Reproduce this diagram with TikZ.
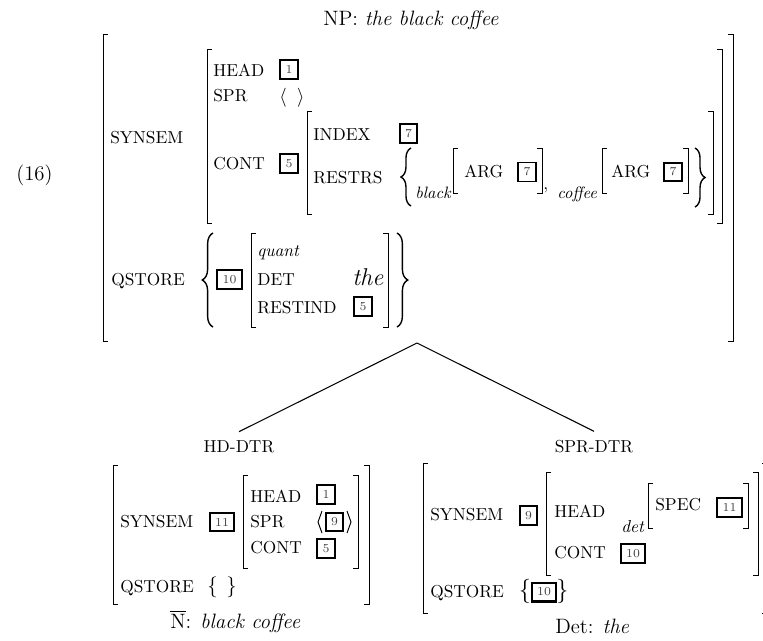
\documentclass[tikz,border=0pt]{standalone}
\usepackage{fontspec}
\usetikzlibrary{decorations.pathreplacing}
\newcommand\lbrk[3]{\draw[brk] (#1+5,#2) -- (#1,#2) -- (#1,#3) -- (#1+5,#3);}
\newcommand\rbrk[3]{\draw[brk] (#1-5,#2) -- (#1,#2) -- (#1,#3) -- (#1-5,#3);}
\newcommand\lbrc[4]{\draw[brc,decoration={brace,amplitude=#2}] (#1,#4) -- (#1,#3);}
\newcommand\rbrc[4]{\draw[brc,decoration={brace,amplitude=#2}] (#1,#3) -- (#1,#4);}
\begin{document}
\begin{tikzpicture}[x=0.577pt,y=-0.577pt,
  ft/.style={anchor=base west,inner sep=0pt,font=\fontsize{10}{12}\selectfont},
  lab/.style={anchor=base west,inner sep=0pt,font=\fontsize{12}{14}\selectfont},
  sub/.style={anchor=base west,inner sep=0pt,font=\fontsize{9.5}{11}\selectfont\itshape},
  itl/.style={anchor=base west,inner sep=0pt,font=\fontsize{10}{12}\selectfont\itshape},
  dtr/.style={anchor=base,inner xsep=0pt,inner ysep=4.7pt,font=\fontsize{10}{12}\selectfont},
  tg/.style={draw,line width=1.3pt,inner sep=0pt,minimum width=10.2pt,minimum height=10.8pt,
    font=\fontsize{7}{8}\selectfont,text=black!75},
  tgw/.style={tg,minimum width=14.2pt},
  tgthin/.style={line width=0.85pt},
  brk/.style={line width=0.55pt},
  brc/.style={line width=0.8pt,decorate},
  tree/.style={line width=0.6pt},
  glyph/.style={inner sep=0pt,font=\fontsize{14}{16}\selectfont}]
\useasboundingbox (0,0) rectangle (763,640);

% ---------- mother AVM ----------
\node[lab] (np) at (323,25) {NP: \textit{the black coffee}};
\node[lab] (ex) at (16,180) {(16)};
\lbrk{103}{34}{341} \rbrk{733}{34}{341}
\node[ft] (ss) at (110,143) {SYNSEM};
\lbrk{207}{49}{223} \rbrk{722}{49}{223}
\node[ft] (hd) at (213,76) {HEAD};
\node[tg] (t1) at (289,69.5) {1};
\node[ft] (spr) at (213,101) {SPR};
\node[anchor=base west,inner sep=0pt,font=\fontsize{11}{13}\selectfont] (sprv) at (279,102) {$\langle\hspace{6pt}\rangle$};
\node[ft] (cont) at (213,169) {CONT};
\node[tg] (t5) at (289,163.5) {5};
\lbrk{307}{111}{214} \rbrk{713}{111}{214}
\node[ft] (idx) at (313,140) {INDEX};
\node[tg] (t7) at (408.5,133.5) {7};
\node[ft] (rst) at (313,183) {RESTRS};
\lbrc{411}{5.8pt}{148}{206}
\node[sub] (blk) at (415,198) {black};
\lbrk{453}{148}{193} \rbrk{542}{148}{193}
\node[ft] (arga) at (464,177) {ARG};
\node[tg,tgthin] (t7a) at (527,172) {7};
\node[ft] (cm) at (543,189) {,};
\node[sub] (cof) at (557,198) {coffee};
\lbrk{602}{148}{193} \rbrk{688}{148}{193}
\node[ft] (argb) at (611,177) {ARG};
\node[tg] (t7b) at (673,172) {7};
\rbrc{695}{5.8pt}{148}{207}

\node[ft] (qs) at (111,285) {QSTORE};
\lbrc{213}{6.2pt}{233}{327}
\node[tgw,tgthin] (t10) at (229.5,279.5) {10};
\lbrk{251}{233}{327} \rbrk{388}{233}{327}
\node[itl] (qu) at (257,256) {quant};
\node[ft] (det) at (257,285) {DET};
\node[anchor=base west,inner sep=0pt,font=\fontsize{14}{16}\selectfont\itshape] (the) at (352,285) {the};
\node[ft] (ri) at (257,313) {RESTIND};
\node[tg] (t5b) at (363,306.5) {5};
\rbrc{397}{6.2pt}{233}{327}

% ---------- tree ----------
\coordinate (apex) at (417,343);
\node[dtr] (hdd) at (239,452) {HD-DTR};
\node[dtr] (sprd) at (594,452) {SPR-DTR};
\draw[tree] (apex) -- (hdd.north);
\draw[tree] (apex) -- (sprd.north);

% ---------- head daughter ----------
\lbrk{113}{465}{604} \rbrk{369}{465}{604}
\node[ft] (hss) at (120,527) {SYNSEM};
\node[tgw] (h11) at (222,522) {11};
\lbrk{243}{475}{568} \rbrk{358}{475}{568}
\node[ft] (hhd) at (250,502) {HEAD};
\node[tg,tgthin] (h1) at (326,494.5) {1};
\node[ft] (hspr) at (250,527) {SPR};
\node[tg] (h9) at (334.5,522) {9};
\draw[brk] (322,511) -- (318,522) -- (322,533);
\draw[brk] (347,511) -- (351,522) -- (347,533);
\node[ft] (hcont) at (250,553) {CONT};
\node[tg,tgthin] (h5) at (326,548.5) {5};
\node[ft] (hqs) at (120,592) {QSTORE};
\node[anchor=base west,inner sep=0pt,font=\fontsize{12}{14}\selectfont] (hqv) at (207,592) {\{\hspace{5pt}\}};
\node[lab] (nbar) at (170,628) {$\overline{\mbox{N}}$: \textit{black coffee}};

% ---------- specifier daughter ----------
\lbrk{423}{463}{613} \rbrk{767}{463}{613}
\node[ft] (sss) at (430,520) {SYNSEM};
\node[tg] (s9) at (528.5,515.5) {9};
\lbrk{546}{472}{575} \rbrk{758}{472}{575}
\node[ft] (shd) at (554,517) {HEAD};
\node[itl] (sdet) at (621,532) {det};
\lbrk{648}{483}{528} \rbrk{748}{483}{528}
\node[ft] (sspec) at (655,510) {SPEC};
\node[tgw] (s11) at (729.5,507.5) {11};
\node[ft] (scont) at (554,558) {CONT};
\node[tgw] (s10) at (633,553.5) {10};
\node[ft] (sqs) at (430,597) {QSTORE};
\node[glyph] (sqo) at (525,591) {\{};
\node[tgw] (s10b) at (544,592) {10};
\node[glyph] (sqc) at (562.5,591) {\}};
\node[lab] (dl) at (555,633) {Det: \textit{the}};
\end{tikzpicture}
\end{document}
